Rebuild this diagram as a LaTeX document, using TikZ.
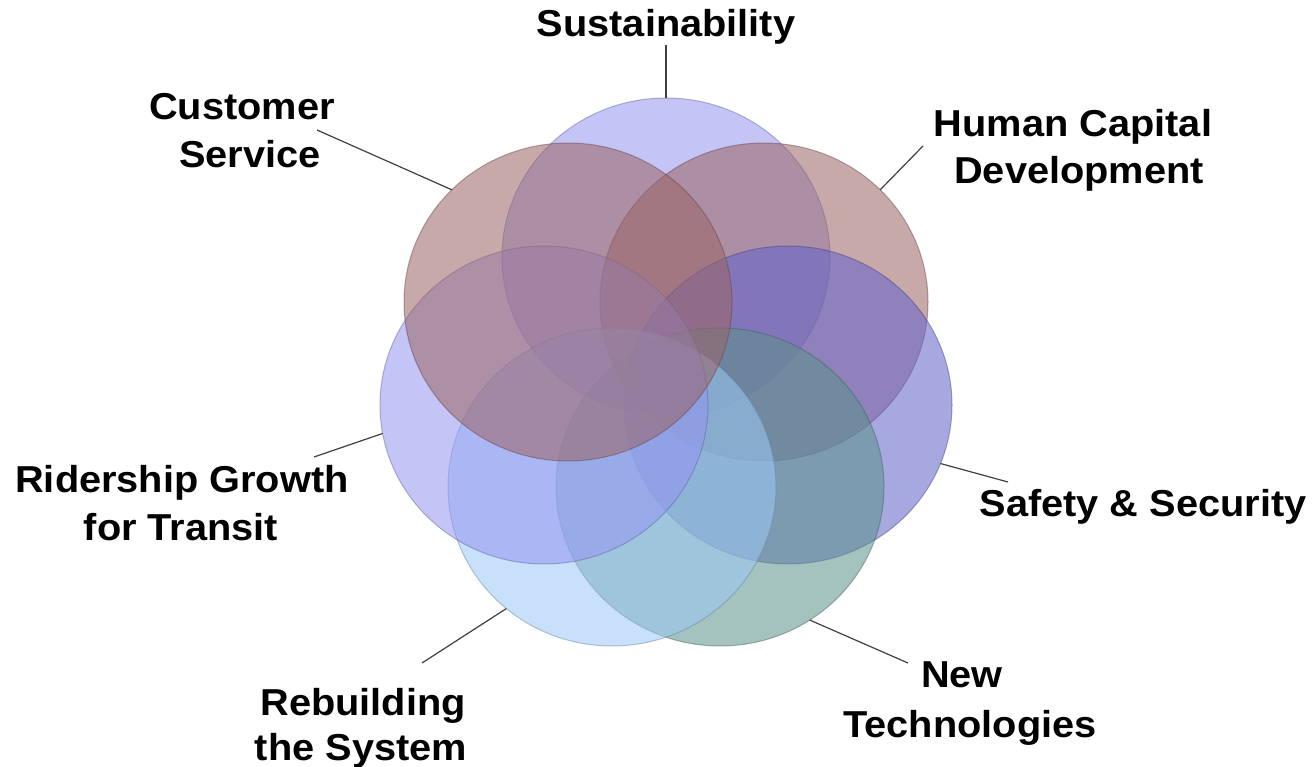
\documentclass[tikz,border=0pt]{standalone}
\usepackage{fontspec}
\setmainfont{Liberation Sans}[FakeStretch=1.06]
\usetikzlibrary{shapes.geometric}
\definecolor{csus}{RGB}{148,148,239}
\definecolor{chc}{RGB}{155,100,100}
\definecolor{csaf}{RGB}{97,97,202}
\definecolor{cnt}{RGB}{91,146,137}
\definecolor{creb}{RGB}{155,200,246}
\definecolor{crid}{RGB}{148,148,242}
\definecolor{ccs}{RGB}{155,100,100}
\begin{document}
\begin{tikzpicture}[x=1pt,y=-1pt,
  ring/.style={ellipse, minimum width=328pt, minimum height=318pt, inner sep=0pt, outer sep=0pt,
    fill=#1, fill opacity=0.55, draw=#1!65!black, draw opacity=0.45, line width=1pt},
  lbl/.style={font=\fontsize{37.5}{48}\selectfont\bfseries, text=black, inner sep=0pt, anchor=base},
  conn/.style={draw=black!75, line width=1.2pt}]
\useasboundingbox (0,0) rectangle (1312,767);
\fill[white] (0,0) rectangle (1312,767);
% circles
\node[ring=csus] (sus) at (666,257) {};
\node[ring=chc]  (hc)  at (764,302) {};
\node[ring=csaf] (saf) at (788,405) {};
\node[ring=cnt]  (nt)  at (720,487) {};
\node[ring=creb] (reb) at (612,487) {};
\node[ring=crid] (rid) at (544,405) {};
\node[ring=ccs]  (cs)  at (568,302) {};
% labels
\node[lbl] (susl) at (666,37) {Sustainability};
\node[lbl] (csl1) at (242,120) {Customer};
\node[lbl] (csl2) at (250,168) {Service};
\node[lbl] (hcl1) at (1073,137) {Human Capital};
\node[lbl] (hcl2) at (1079,184) {Development};
\node[lbl] (ridl1) at (182,492) {Ridership Growth};
\node[lbl] (ridl2) at (181,540) {for Transit};
\node[lbl] (safl) at (1143,516) {Safety \& Security};
\node[lbl] (rebl1) at (363,715) {Rebuilding};
\node[lbl] (rebl2) at (361,760) {the System};
\node[lbl] (ntl1) at (962,687) {New};
\node[lbl] (ntl2) at (970,737) {Technologies};
% connector ends
\coordinate (susc) at (666,45);
\coordinate (csc) at (317,130);
\coordinate (hcc) at (923,146);
\coordinate (safc) at (1008,482);
\coordinate (ntc) at (908,663);
\coordinate (rebc) at (422,663);
\coordinate (ridc) at (314,457);
\draw[conn] (susc) -- (sus.90);
\draw[conn] (csc) -- (cs.136);
\draw[conn] (hcc) -- (hc.44);
\draw[conn] (safc) -- (saf.-21);
\draw[conn] (ntc) -- (nt.-56);
\draw[conn] (rebc) -- (reb.-131);
\draw[conn] (ridc) -- (rid.190);
\end{tikzpicture}
\end{document}
